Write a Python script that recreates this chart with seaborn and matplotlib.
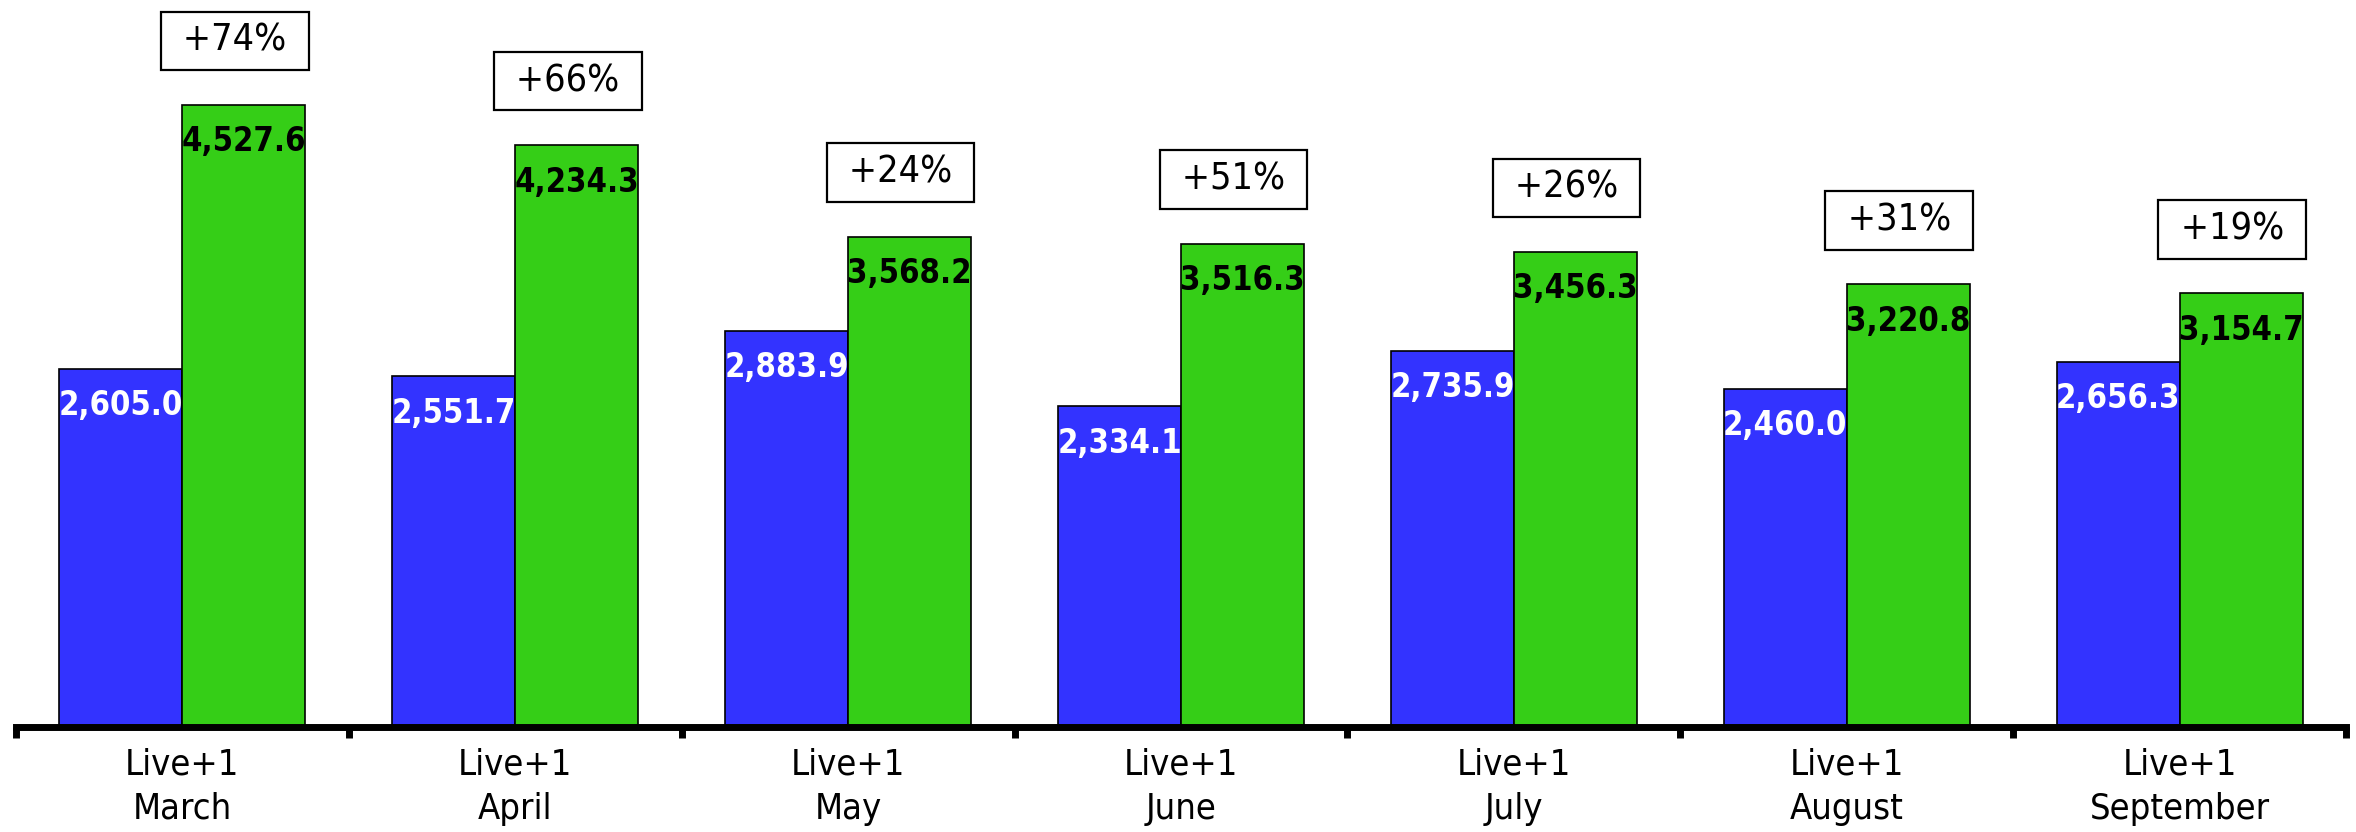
import numpy as np
import pandas as pd
import matplotlib
matplotlib.use("Agg")
import matplotlib.pyplot as plt
import seaborn as sns

# Monthly audience figures (thousands)
months = ["March", "April", "May", "June", "July", "August", "September"]
live_plus1 = [2605.0, 2551.7, 2883.9, 2334.1, 2735.9, 2460.0, 2656.3]
with_delayed = [4527.6, 4234.3, 3568.2, 3516.3, 3456.3, 3220.8, 3154.7]
uplift_labels = ["+74%", "+66%", "+24%", "+51%", "+26%", "+31%", "+19%"]
category_labels = [f"Live+1\n{m}" for m in months]
series_names = ["Live+1", "Live+1 incl. delayed"]

BLUE = "#3333FF"
GREEN = "#35CE17"

df = pd.DataFrame({
    "month": months * 2,
    "value": live_plus1 + with_delayed,
    "series": [series_names[0]] * len(months) + [series_names[1]] * len(months),
})

sns.set_theme(style="white")
plt.rcParams["font.family"] = ["DejaVu Sans"]
plt.rcParams["font.stretch"] = "condensed"

W, H = 2356, 832
fig = plt.figure(figsize=(W / 100, H / 100), dpi=100)
ax = fig.add_axes([16 / W, 105.5 / H, 2330 / W, 726.5 / H])

sns.barplot(data=df, x="month", y="value", hue="series", order=months,
            hue_order=series_names, palette=[BLUE, GREEN], width=0.739,
            edgecolor="black", linewidth=1.2, saturation=1, legend=False,
            errorbar=None, ax=ax)

ax.set_xlim(-0.5, len(months) - 0.5)
ax.set_ylim(0, 5291)
ax.set_xlabel("")
ax.set_ylabel("")
ax.set_yticks([])
for side in ("left", "right", "top"):
    ax.spines[side].set_visible(False)
ax.spines["bottom"].set_linewidth(5)
ax.spines["bottom"].set_color("black")

# boundary ticks between months, labels centred under each pair
ax.set_xticks(np.arange(-0.5, len(months), 1.0))
ax.set_xticklabels([])
ax.set_xticks(np.arange(len(months)), minor=True)
ax.set_xticklabels(category_labels, minor=True, fontsize=26, linespacing=1.38)
ax.tick_params(axis="x", which="major", length=8, width=5, color="black",
               direction="out", bottom=True)
ax.tick_params(axis="x", which="minor", length=0, pad=15, labelcolor="black")

px = 72 / 100  # points per pixel

blue_bars, green_bars = ax.containers[0], ax.containers[1]
for bar, v in zip(blue_bars, live_plus1):
    ax.annotate(f"{v:,.1f}", xy=(bar.get_x() + bar.get_width() / 2, v),
                xytext=(0, -37 * px), textcoords="offset points",
                ha="center", va="center", fontsize=23.5, fontweight="bold",
                color="white")
for bar, v, pct in zip(green_bars, with_delayed, uplift_labels):
    cx = bar.get_x() + bar.get_width() / 2
    ax.annotate(f"{v:,.1f}", xy=(cx, v), xytext=(0, -37 * px),
                textcoords="offset points", ha="center", va="center",
                fontsize=23.5, fontweight="bold", color="black")
    ax.annotate(f" {pct} ", xy=(cx, v), xytext=(-9 * px, 64 * px),
                textcoords="offset points", ha="center", va="center",
                fontsize=27, color="black", annotation_clip=False,
                bbox=dict(boxstyle="square,pad=0.3", fc="white",
                          ec="black", lw=1.6))

fig.savefig("out.png", dpi=100, facecolor="white")
